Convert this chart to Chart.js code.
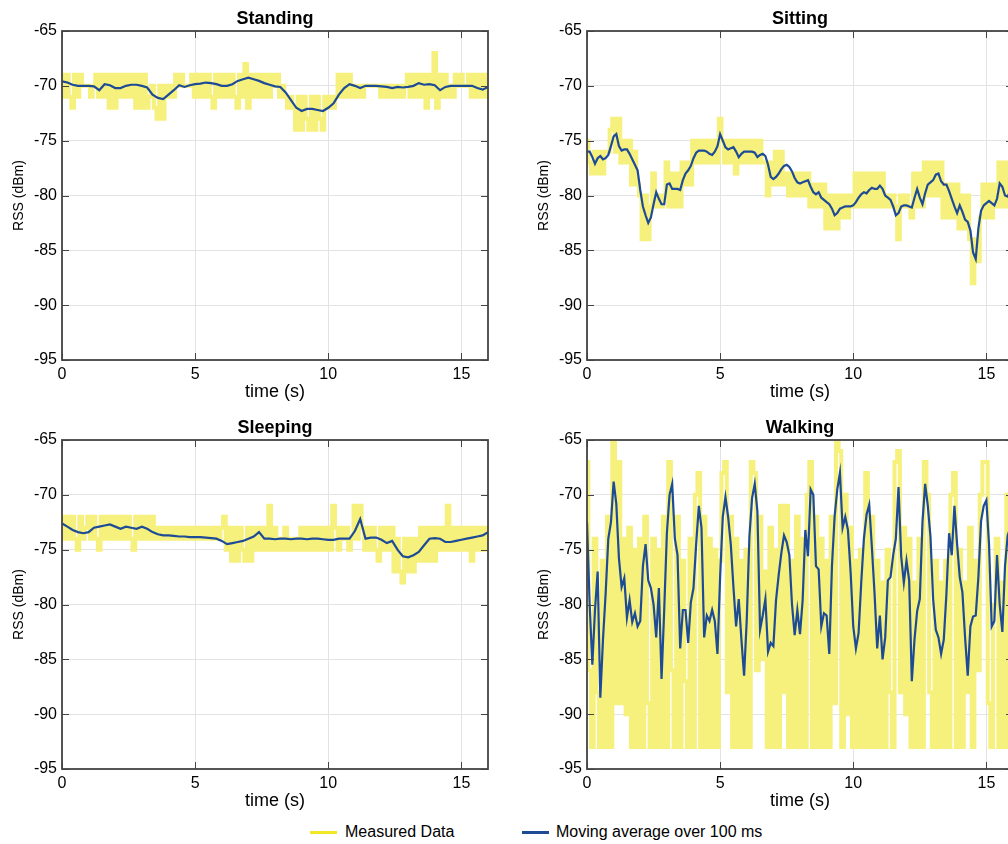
<!DOCTYPE html>
<html>
<head>
<meta charset="utf-8">
<script src="https://cdn.jsdelivr.net/npm/chart.js@4.4.1/dist/chart.umd.min.js"></script>
<style>
  body { margin: 0; width: 1008px; height: 844px; overflow: hidden; background: #fff; position: relative;
         font-family: "Liberation Sans", Arial, sans-serif; }
  canvas { position: absolute; }
  .ttl { position: absolute; width: 426px; text-align: center; font-weight: bold; font-size: 18px; line-height: 18px; }
  .leg { position: absolute; top: 823px; font-size: 16px; line-height: 18px; }
  .sw { position: absolute; top: 831px; width: 27px; height: 3px; }
</style>
</head>
<body>
<canvas id="c1" width="500" height="404" style="left:0;top:0"></canvas>
<canvas id="c2" width="500" height="404" style="left:525px;top:0"></canvas>
<canvas id="c3" width="500" height="404" style="left:0;top:409px"></canvas>
<canvas id="c4" width="500" height="404" style="left:525px;top:409px"></canvas>
<div class="ttl" style="left:62px;top:9px">Standing</div>
<div class="ttl" style="left:587px;top:9px">Sitting</div>
<div class="ttl" style="left:62px;top:418px">Sleeping</div>
<div class="ttl" style="left:587px;top:418px">Walking</div>
<div class="sw" style="left:310px;background:#f2e826"></div>
<div class="leg" style="left:345px">Measured Data</div>
<div class="sw" style="left:522px;background:#1d4b96"></div>
<div class="leg" style="left:556px">Moving average over 100 ms</div>
<script>
// sample times: measured data and walking average every 0.1 s, calm averages every 0.2 s
const t10 = Array.from({length: 161}, (_, i) => i / 10);
const t5 = Array.from({length: 81}, (_, i) => i / 5);
const xTicks = [0, 5, 10, 15];
const yTicks = [-95, -90, -85, -80, -75, -70, -65];

const standingMeasured = [
  -69,-71,-69,-71,-72,-69,-71,-69,-70,-70,
  -70,-71,-70,-69,-71,-69,-71,-69,-72,-69,
  -72,-69,-71,-69,-71,-69,-71,-69,-72,-69,
  -72,-69,-72,-71,-70,-72,-73,-70,-73,-70,
  -71,-70,-71,-69,-70,-69,-70,-70,-70,-69,
  -71,-69,-71,-69,-71,-69,-71,-72,-69,-71,
  -69,-71,-69,-71,-69,-71,-72,-69,-71,-68,
  -72,-69,-71,-69,-71,-69,-71,-69,-71,-69,
  -70,-69,-71,-70,-71,-72,-71,-72,-74,-71,
  -74,-71,-73,-74,-71,-74,-71,-73,-74,-71,
  -72,-71,-72,-71,-69,-71,-69,-71,-69,-71,
  -70,-71,-70,-71,-70,-70,-70,-70,-70,-70,
  -71,-70,-71,-70,-71,-70,-71,-70,-71,-70,
  -69,-71,-69,-71,-69,-71,-69,-72,-69,-71,
  -67,-72,-69,-71,-69,-71,-70,-71,-69,-70,
  -69,-70,-70,-69,-71,-69,-71,-69,-71,-69,
  -71
];
const standingAvg = [
  -69.6,-69.7,-69.9,-70.0,-70.0,-70.0,-70.05,-70.4,-69.85,-69.95,
  -70.2,-70.2,-70.0,-69.9,-69.9,-70.0,-70.15,-70.8,-71.1,-71.2,
  -70.8,-70.4,-69.95,-70.1,-69.95,-69.85,-69.8,-69.7,-69.75,-69.85,
  -70.0,-70.0,-69.85,-69.55,-69.4,-69.25,-69.4,-69.55,-69.75,-69.9,
  -70.05,-70.1,-70.6,-71.3,-72.0,-72.3,-72.1,-72.1,-72.2,-72.3,
  -72.0,-71.6,-70.8,-70.2,-69.85,-70.0,-70.2,-70.0,-70.0,-70.0,
  -70.05,-70.1,-70.2,-70.1,-70.15,-70.1,-70.0,-69.75,-69.9,-69.85,
  -69.95,-70.4,-70.1,-70.0,-70.0,-70.0,-70.0,-70.0,-70.2,-70.35,
  -70.1
];

const sittingMeasured = [
  -75,-77,-78,-76,-78,-76,-78,-76,-76,-74,
  -73,-76,-73,-77,-75,-77,-75,-79,-76,-79,
  -80,-84,-80,-84,-81,-78,-81,-80,-81,-80,
  -77,-81,-78,-81,-78,-81,-77,-79,-77,-79,
  -75,-77,-75,-77,-75,-77,-75,-77,-75,-77,
  -73,-75,-77,-75,-77,-75,-78,-75,-77,-75,
  -77,-75,-77,-75,-77,-75,-77,-77,-80,-77,
  -79,-76,-79,-76,-79,-78,-80,-78,-80,-78,
  -80,-78,-80,-78,-81,-79,-81,-79,-81,-79,
  -83,-80,-83,-80,-83,-80,-82,-80,-82,-80,
  -81,-78,-81,-78,-81,-78,-81,-78,-81,-78,
  -81,-78,-81,-80,-81,-80,-81,-84,-80,-81,
  -80,-81,-82,-78,-81,-78,-81,-77,-80,-77,
  -80,-77,-80,-77,-82,-79,-82,-79,-82,-79,
  -83,-80,-83,-80,-84,-88,-84,-86,-82,-79,
  -82,-79,-82,-79,-81,-77,-81,-77,-81,-79,
  -81
];
const sittingAvg = [
  -76.0,-76.0,-76.5,-77.1,-76.6,-76.4,-76.7,-76.6,-76.3,-75.5,
  -74.6,-74.4,-75.5,-75.9,-75.8,-75.8,-76.2,-76.7,-77.2,-77.7,
  -79.5,-81.0,-81.8,-82.5,-82.0,-80.8,-79.7,-80.3,-80.8,-80.8,
  -79.0,-78.9,-79.4,-79.4,-79.4,-79.5,-78.6,-78.0,-77.7,-77.3,
  -76.6,-76.1,-75.9,-75.9,-75.9,-76.0,-76.2,-76.3,-76.0,-75.5,
  -74.4,-75.0,-75.6,-75.8,-75.7,-75.6,-76.0,-76.5,-76.2,-76.0,
  -76.0,-76.0,-76.0,-76.1,-76.5,-76.3,-76.2,-76.4,-77.2,-78.3,
  -78.5,-78.3,-78.0,-77.6,-77.3,-77.2,-77.4,-77.8,-78.4,-78.8,
  -78.9,-78.8,-78.7,-78.6,-79.2,-79.7,-79.9,-79.7,-80.2,-80.4,
  -80.6,-80.8,-81.2,-81.8,-81.6,-81.2,-81.1,-81.0,-81.0,-81.0,
  -80.9,-80.6,-80.2,-79.9,-79.7,-79.8,-79.5,-79.3,-79.4,-79.4,
  -79.1,-79.4,-80.0,-80.2,-80.4,-81.0,-81.8,-81.6,-81.0,-80.9,
  -80.9,-81.0,-81.1,-80.2,-79.4,-80.2,-80.8,-79.8,-79.0,-78.8,
  -78.6,-78.1,-78.0,-78.7,-79.0,-79.0,-79.6,-80.3,-81.0,-81.6,
  -80.9,-81.5,-82.2,-82.4,-83.2,-85.2,-85.8,-83.0,-81.4,-80.9,
  -80.7,-80.5,-80.7,-80.9,-80.3,-78.9,-79.2,-80.0,-80.1,-79.6,
  -79.5
];

const sleepingMeasured = [
  -72,-74,-72,-74,-72,-74,-75,-72,-74,-73,
  -72,-74,-72,-74,-75,-72,-74,-72,-74,-72,
  -74,-72,-74,-72,-74,-72,-74,-75,-72,-74,
  -72,-74,-72,-74,-72,-74,-73,-74,-73,-74,
  -73,-74,-73,-74,-73,-74,-73,-74,-73,-74,
  -73,-74,-73,-74,-73,-74,-73,-74,-73,-74,
  -73,-72,-75,-73,-76,-73,-76,-73,-75,-76,
  -73,-76,-73,-75,-73,-75,-73,-75,-71,-75,
  -73,-75,-74,-75,-73,-75,-74,-75,-74,-75,
  -73,-75,-73,-75,-73,-75,-73,-75,-73,-75,
  -73,-75,-71,-73,-75,-73,-74,-73,-75,-74,
  -71,-74,-71,-73,-75,-73,-75,-73,-75,-76,
  -73,-75,-73,-75,-73,-77,-74,-77,-78,-74,
  -77,-74,-77,-74,-76,-73,-76,-73,-76,-73,
  -76,-73,-75,-73,-75,-71,-75,-73,-75,-73,
  -75,-73,-75,-73,-76,-73,-75,-73,-75,-73,
  -75
];
const sleepingAvg = [
  -72.6,-72.9,-73.2,-73.4,-73.5,-73.4,-73.0,-72.9,-72.8,-72.7,
  -72.9,-73.1,-72.9,-73.0,-73.1,-72.9,-73.1,-73.4,-73.6,-73.7,
  -73.7,-73.75,-73.8,-73.8,-73.85,-73.85,-73.85,-73.9,-73.95,-74.0,
  -74.2,-74.5,-74.4,-74.3,-74.2,-74.0,-73.8,-73.4,-74.0,-74.0,
  -74.05,-74.0,-74.0,-74.05,-74.0,-74.0,-74.05,-74.0,-74.0,-74.05,
  -74.1,-74.1,-74.0,-74.0,-74.0,-73.3,-72.2,-74.0,-73.9,-73.9,
  -74.1,-74.4,-74.2,-75.0,-75.6,-75.7,-75.5,-75.2,-74.6,-74.0,
  -73.95,-74.0,-74.3,-74.3,-74.2,-74.1,-74.0,-73.9,-73.8,-73.7,
  -73.4
];

const walkingMeasured = [
  -67,-86,-93,-74,-88,-93,-76,-93,-72,-93,
  -65,-89,-67,-89,-74,-90,-73,-93,-75,-93,
  -74,-93,-72,-89,-93,-74,-93,-75,-93,-72,
  -93,-67,-86,-93,-72,-93,-76,-87,-93,-74,
  -93,-70,-68,-93,-72,-93,-74,-93,-75,-93,
  -76,-68,-67,-88,-72,-93,-74,-93,-76,-93,
  -75,-93,-67,-68,-86,-72,-85,-77,-93,-73,
  -93,-75,-93,-71,-88,-71,-93,-76,-93,-72,
  -93,-74,-93,-70,-67,-93,-72,-93,-74,-93,
  -76,-93,-72,-89,-65,-66,-93,-70,-90,-73,
  -93,-76,-93,-75,-93,-68,-93,-72,-93,-76,
  -93,-78,-93,-75,-88,-93,-67,-66,-88,-73,
  -90,-74,-93,-78,-93,-74,-93,-67,-70,-88,
  -93,-76,-93,-78,-93,-76,-93,-70,-68,-93,
  -75,-93,-78,-88,-73,-93,-76,-86,-70,-67,
  -67,-89,-93,-80,-74,-93,-78,-93,-70,-72,
  -76
];
const walkingAvg = [
  -72.5,-80.0,-85.5,-80.5,-77.0,-88.5,-83.2,-79.0,-74.0,-72.5,
  -68.8,-70.8,-75.8,-78.4,-77.6,-81.2,-79.6,-81.6,-80.8,-82.0,
  -81.5,-76.5,-74.5,-77.8,-78.5,-80.0,-83.0,-78.5,-86.8,-80.5,
  -73.5,-70.0,-69.0,-74.0,-75.5,-84.0,-80.5,-80.5,-83.5,-79.8,
  -78.5,-74.5,-71.0,-73.0,-83.0,-81.0,-81.5,-80.5,-81.5,-84.5,
  -77.5,-72.0,-70.2,-72.0,-74.5,-78.4,-82.0,-79.5,-83.2,-86.5,
  -81.4,-73.8,-70.3,-69.0,-71.5,-82.3,-81.0,-79.5,-84.3,-83.5,
  -83.8,-79.6,-77.3,-75.3,-73.7,-74.3,-75.5,-80.0,-82.8,-80.5,
  -82.7,-79.6,-73.2,-75.6,-69.5,-70.0,-76.5,-76.8,-82.0,-80.8,
  -81.0,-84.5,-76.5,-72.0,-69.5,-68.0,-73.0,-72.0,-73.2,-77.0,
  -82.0,-84.0,-82.6,-78.0,-74.0,-71.8,-70.9,-74.8,-79.0,-84.0,
  -81.0,-85.0,-83.0,-77.8,-77.5,-75.5,-74.0,-69.3,-75.6,-78.0,
  -76.0,-77.8,-87.0,-83.2,-80.6,-79.5,-72.5,-69.0,-71.0,-73.8,
  -79.5,-82.3,-83.0,-84.5,-83.2,-79.0,-73.5,-75.5,-71.0,-74.5,
  -77.5,-78.9,-83.0,-86.5,-82.0,-81.1,-81.0,-77.5,-72.4,-71.0,
  -70.5,-74.5,-82.0,-81.5,-75.5,-80.0,-82.5,-76.5,-73.7,-73.0,
  -74.0
];

const FONT = '"Liberation Sans", Arial, sans-serif';
const YELLOW = '#f6f07c';
const BLUE = '#1d4b96';

// MATLAB-like box with inward ticks
const frame = {
  id: 'frame',
  afterDatasetsDraw(chart) {
    const { ctx, chartArea: a, scales: { x, y } } = chart;
    ctx.save();
    ctx.strokeStyle = '#444';
    ctx.lineWidth = 1;
    ctx.beginPath();
    xTicks.forEach(v => {
      const px = Math.round(x.getPixelForValue(v)) + 0.5;
      ctx.moveTo(px, a.bottom); ctx.lineTo(px, a.bottom - 7);
      ctx.moveTo(px, a.top); ctx.lineTo(px, a.top + 7);
    });
    yTicks.forEach(v => {
      const py = Math.round(y.getPixelForValue(v)) + 0.5;
      ctx.moveTo(a.left, py); ctx.lineTo(a.left + 7, py);
      ctx.moveTo(a.right, py); ctx.lineTo(a.right - 7, py);
    });
    ctx.stroke();
    ctx.lineWidth = 1.8;
    ctx.strokeRect(a.left, a.top, a.width, a.height);
    ctx.restore();
  }
};

function pts(ts, vs) {
  return vs.map((v, i) => ({ x: ts[i], y: v }));
}

function plot(id, measured, avgT, avg) {
  new Chart(document.getElementById(id), {
    type: 'line',
    data: {
      datasets: [
        { label: 'Moving average over 100 ms', data: pts(avgT, avg), borderColor: BLUE,
          borderWidth: 2.2, pointRadius: 0, order: 0 },
        { label: 'Measured Data', data: pts(t10, measured), borderColor: YELLOW,
          borderWidth: 4, pointRadius: 0, stepped: 'middle', order: 1 }
      ]
    },
    options: {
      responsive: false,
      animation: false,
      devicePixelRatio: 1,
      layout: { padding: { top: 31, right: 12, left: 0, bottom: 0 } },
      plugins: { legend: { display: false }, tooltip: { enabled: false } },
      scales: {
        x: {
          type: 'linear', min: 0, max: 16,
          ticks: { stepSize: 5, includeBounds: false, padding: 5, maxRotation: 0, color: '#000',
                   font: { family: FONT, size: 16 } },
          grid: { color: '#e3e3e3', lineWidth: 1, drawTicks: false },
          border: { display: false },
          title: { display: true, text: 'time (s)', color: '#000', padding: { top: 0, bottom: 1 },
                   font: { family: FONT, size: 18 } },
          afterFit(s) { s.height = 44; }
        },
        y: {
          min: -95, max: -65,
          ticks: { stepSize: 5, padding: 5, color: '#000', font: { family: FONT, size: 16 } },
          grid: { color: '#e3e3e3', lineWidth: 1, drawTicks: false },
          border: { display: false },
          title: { display: true, text: 'RSS (dBm)', color: '#000', padding: { top: 11, bottom: 0 },
                   font: { family: FONT, size: 14 } },
          afterFit(s) { s.width = 62; }
        }
      }
    },
    plugins: [frame]
  });
}

plot('c1', standingMeasured, t5, standingAvg);
plot('c2', sittingMeasured, t10, sittingAvg);
plot('c3', sleepingMeasured, t5, sleepingAvg);
plot('c4', walkingMeasured, t10, walkingAvg);
</script>
</body>
</html>
